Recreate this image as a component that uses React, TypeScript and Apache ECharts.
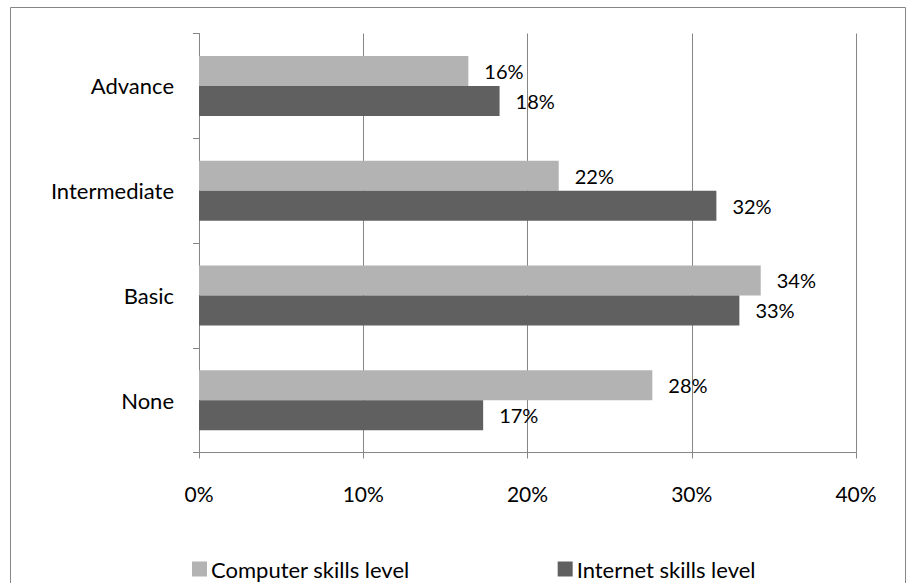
import React, { useEffect, useRef } from "react";
import * as echarts from "echarts";

const categories = ["Advance", "Intermediate", "Basic", "None"];
const computerSkills = [16.4, 21.9, 34.2, 27.6];
const internetSkills = [18.3, 31.5, 32.9, 17.3];
const seriesNames = ["Computer skills level", "Internet skills level"];
const xTicks = { min: 0, max: 40, interval: 10 };

const FONT = "Lato, 'Open Sans', sans-serif";

export default function App() {
  const ref = useRef<HTMLDivElement>(null);
  useEffect(() => {
    document.body.style.margin = "0";
    const chart = echarts.init(ref.current!, null, { renderer: "svg" });
    const labelCfg = {
      show: true,
      position: "right" as const,
      distance: 16,
      color: "#000",
      fontSize: 20,
      fontFamily: FONT,
      formatter: (p: any) => `${Math.round(p.value)}%`,
    };
    chart.setOption({
      animation: false,
      backgroundColor: "#fff",
      textStyle: { fontFamily: FONT },
      graphic: [
        {
          type: "rect",
          shape: { x: 10.5, y: 7.5, width: 895, height: 620 },
          style: { fill: "none", stroke: "#868686", lineWidth: 1 },
          silent: true,
        },
      ],
      grid: { left: 199, right: 61, top: 33.5, bottom: 130.5, containLabel: false },
      legend: {
        left: 187,
        top: 553,
        itemWidth: 15,
        itemHeight: 15,
        itemGap: 148,
        icon: "rect",
        textStyle: { fontSize: 22, color: "#000", fontFamily: FONT, padding: [0, 0, 0, -1] },
        data: seriesNames,
      },
      xAxis: {
        type: "value",
        min: xTicks.min,
        max: xTicks.max,
        interval: xTicks.interval,
        axisLine: { show: true, lineStyle: { color: "#868686" } },
        axisTick: { show: true, length: 6, lineStyle: { color: "#868686" } },
        splitLine: { show: true, lineStyle: { color: "#868686" } },
        axisLabel: { formatter: "{value}%", fontSize: 21, color: "#000", margin: 30, fontFamily: FONT },
      },
      yAxis: {
        type: "category",
        data: categories,
        inverse: true,
        axisLine: { show: true, lineStyle: { color: "#868686" } },
        axisTick: { show: true, length: 6, lineStyle: { color: "#868686" } },
        axisLabel: { fontSize: 22, color: "#000", margin: 25, fontFamily: FONT },
      },
      series: [
        {
          name: seriesNames[0],
          type: "bar",
          data: computerSkills,
          barWidth: 30,
          barGap: "0%",
          itemStyle: { color: "#b3b3b3" },
          label: labelCfg,
        },
        {
          name: seriesNames[1],
          type: "bar",
          data: internetSkills,
          barWidth: 30,
          barGap: "0%",
          itemStyle: { color: "#606060" },
          label: labelCfg,
        },
      ],
    });
    return () => chart.dispose();
  }, []);
  return <div ref={ref} style={{ width: 917, height: 583 }} />;
}
